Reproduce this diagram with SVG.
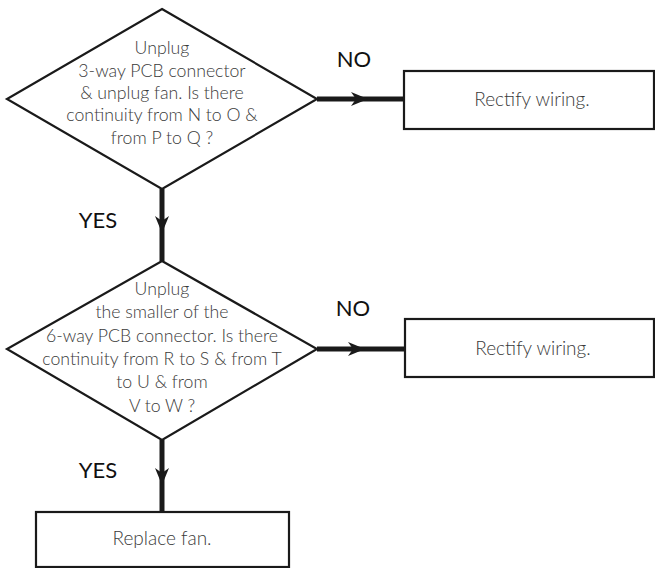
<svg xmlns="http://www.w3.org/2000/svg" width="655" height="568" viewBox="0 0 655 568">
<style>
.shape{fill:#fff;stroke:#1a1a1a;stroke-width:2.2}
.t{font-family:Lato,"Open Sans","Liberation Sans",sans-serif;font-weight:300;font-size:17.7px;fill:#3a3a3a;text-anchor:middle}
.b{font-size:19px}
.lbl{font-family:Lato,"Open Sans","Liberation Sans",sans-serif;font-size:22px;fill:#111;text-anchor:middle}
.conn{fill:none;stroke:#1a1a1a;stroke-width:5;marker-mid:url(#barb)}
</style>
<defs>
<marker id="barb" markerUnits="userSpaceOnUse" markerWidth="20" markerHeight="16" viewBox="-18 -8 20 16" refX="0" refY="0" orient="auto" overflow="visible">
<path d="M0 0 L-17 -7 L-12 0 L-17 7 Z" fill="#1a1a1a"/>
</marker>
</defs>
<g id="connectors">
<path class="conn" d="M317 99 L368 99 L404 99"/>
<path class="conn" d="M162 189 L162 233 L162 261"/>
<path class="conn" d="M317 349 L365 349 L405 349"/>
<path class="conn" d="M162 440 L162 485 L162 512"/>
</g>
<g id="labels">
<text class="lbl" x="354" y="67">NO</text>
<text class="lbl" x="98" y="228">YES</text>
<text class="lbl" x="353" y="316">NO</text>
<text class="lbl" x="98" y="478">YES</text>
</g>
<g id="decision1">
<polygon class="shape" points="162,9 317,99 162,189 7,99"/>
<text class="t" x="162" y="54">Unplug</text>
<text class="t" x="162" y="76.5">3-way PCB connector</text>
<text class="t" x="162" y="98.5">&amp; unplug fan. Is there</text>
<text class="t" x="162" y="121">continuity from N to O &amp;</text>
<text class="t" x="162" y="143.5">from P to Q ?</text>
</g>
<g id="box1">
<rect class="shape" x="404" y="71" width="250" height="58"/>
<text class="t b" x="532" y="105.5">Rectify wiring.</text>
</g>
<g id="decision2">
<polygon class="shape" points="162,261 317,349 162,440 7,349"/>
<text class="t" x="162" y="295">Unplug</text>
<text class="t" x="162" y="318">the smaller of the</text>
<text class="t" x="162" y="341.5">6-way PCB connector. Is there</text>
<text class="t" x="162" y="365">continuity from R to S &amp; from T</text>
<text class="t" x="162" y="388">to U &amp; from</text>
<text class="t" x="162" y="411.5">V to W ?</text>
</g>
<g id="box2">
<rect class="shape" x="405" y="319" width="249" height="58"/>
<text class="t b" x="533" y="355">Rectify wiring.</text>
</g>
<g id="box3">
<rect class="shape" x="36" y="512" width="253" height="55"/>
<text class="t b" x="162" y="545">Replace fan.</text>
</g>
</svg>
